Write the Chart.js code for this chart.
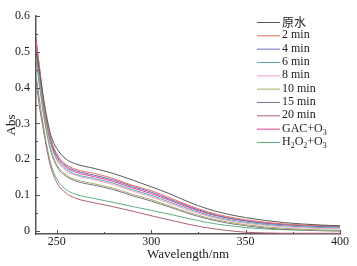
<!DOCTYPE html>
<html><head><meta charset="utf-8">
<script src="https://cdn.jsdelivr.net/npm/chart.js@4/dist/chart.umd.min.js"></script>
<style>html,body{margin:0;padding:0;background:#fff;}#wrap{width:357px;height:266px;}</style>
</head><body><div id="wrap"><canvas id="c" width="357" height="266"></canvas></div>
<script>
const wavelengths = [239, 241, 243, 245, 247, 250, 255, 260, 270, 280, 290, 300, 310, 320, 330, 340, 350, 360, 370, 380, 390, 400];
const rawWater = [0.50, 0.44, 0.37, 0.31, 0.265, 0.23, 0.20, 0.187, 0.174, 0.160, 0.142, 0.123, 0.103, 0.080, 0.061, 0.047, 0.037, 0.029, 0.023, 0.019, 0.016, 0.014];
const min2 = [0.53, 0.45, 0.36, 0.30, 0.255, 0.215, 0.185, 0.172, 0.160, 0.146, 0.127, 0.112, 0.092, 0.071, 0.053, 0.040, 0.031, 0.024, 0.019, 0.016, 0.014, 0.013];
const min4 = [0.52, 0.44, 0.355, 0.295, 0.25, 0.21, 0.181, 0.168, 0.155, 0.142, 0.124, 0.108, 0.088, 0.068, 0.050, 0.037, 0.028, 0.021, 0.017, 0.014, 0.012, 0.011];
const min6 = [0.50, 0.42, 0.34, 0.285, 0.24, 0.20, 0.172, 0.158, 0.146, 0.133, 0.115, 0.099, 0.080, 0.061, 0.044, 0.032, 0.024, 0.018, 0.014, 0.011, 0.009, 0.008];
const min8 = [0.51, 0.43, 0.345, 0.285, 0.24, 0.198, 0.168, 0.155, 0.142, 0.129, 0.111, 0.095, 0.076, 0.057, 0.041, 0.029, 0.021, 0.015, 0.011, 0.008, 0.006, 0.005];
const min10 = [0.49, 0.41, 0.33, 0.27, 0.225, 0.185, 0.156, 0.143, 0.131, 0.119, 0.102, 0.087, 0.069, 0.051, 0.036, 0.025, 0.017, 0.011, 0.007, 0.004, 0.002, 0.001];
const min15 = [0.48, 0.40, 0.325, 0.265, 0.22, 0.18, 0.152, 0.139, 0.127, 0.115, 0.098, 0.083, 0.066, 0.048, 0.033, 0.022, 0.014, 0.008, 0.004, 0.002, 0.000, -0.001];
const min20 = [0.42, 0.34, 0.28, 0.22, 0.175, 0.135, 0.105, 0.091, 0.078, 0.067, 0.055, 0.042, 0.030, 0.018, 0.008, 0.001, -0.004, -0.006, -0.007, -0.007, -0.007, -0.007];
const gacO3 = [0.54, 0.45, 0.36, 0.295, 0.248, 0.207, 0.177, 0.164, 0.151, 0.138, 0.120, 0.104, 0.085, 0.065, 0.048, 0.036, 0.028, 0.022, 0.018, 0.015, 0.013, 0.012];
const h2o2O3 = [0.44, 0.36, 0.29, 0.23, 0.185, 0.145, 0.115, 0.102, 0.090, 0.079, 0.068, 0.057, 0.046, 0.034, 0.023, 0.015, 0.009, 0.005, 0.003, 0.002, 0.001, 0.001];
const seriesNames = ['原水', '2 min', '4 min', '6 min', '8 min', '10 min', '15 min', '20 min', 'GAC+O3', 'H2O2+O3'];
const xTicks = [250, 300, 350, 400];
const yTicks = [0, 0.1, 0.2, 0.3, 0.4, 0.5, 0.6];

const seriesData = [rawWater, min2, min4, min6, min8, min10, min15, min20, gacO3, h2o2O3];
const colors = ['#5a5a5a', '#e8705c', '#6a6ac8', '#5fa8a8', '#f0a0d0', '#a8b060', '#76768e', '#b06070', '#e0408c', '#60b080'];

const datasets = seriesNames.map((n, i) => ({
  label: n,
  data: wavelengths.map((w, j) => ({x: w, y: seriesData[i][j]})),
  borderColor: colors[i],
  borderWidth: 1,
  pointRadius: 0,
  fill: false,
  cubicInterpolationMode: 'monotone'
}));

const SERIF = "'Liberation Serif', 'DejaVu Serif', serif";

const extras = {
  id: 'extras',
  afterDraw(chart) {
    const ctx = chart.ctx;
    const xs = chart.scales.x, ys = chart.scales.y;
    const area = chart.chartArea;
    ctx.save();
    ctx.strokeStyle = '#555';
    ctx.lineWidth = 1;
    for (let v = 250; v <= 400; v += 25) {
      const px = Math.round(xs.getPixelForValue(v)) + 0.5;
      const len = (v % 50 === 0) ? 4 : 2;
      ctx.beginPath(); ctx.moveTo(px, area.bottom); ctx.lineTo(px, area.bottom - len); ctx.stroke();
    }
    for (let k = 0; k <= 12; k++) {
      const v = k * 0.05;
      const py = Math.round(ys.getPixelForValue(v)) + 0.5;
      const len = (k % 2 === 0) ? 4 : 2;
      ctx.beginPath(); ctx.moveTo(area.left, py); ctx.lineTo(area.left + len, py); ctx.stroke();
    }
    const x0 = 257, x1 = 280, tx = 282;
    let y = 22;
    ctx.textBaseline = 'middle';
    ctx.textAlign = 'left';
    ctx.fillStyle = '#222';
    seriesNames.forEach((n, i) => {
      ctx.strokeStyle = colors[i];
      ctx.beginPath(); ctx.moveTo(x0, y + 0.5); ctx.lineTo(x1, y + 0.5); ctx.stroke();
      const big = "12px " + SERIF, small = "8px " + SERIF;
      if (n === '原水') {
        ctx.font = "12px 'Noto Sans CJK SC', serif";
        ctx.fillText(n, tx, y);
      } else if (n === 'GAC+O3') {
        ctx.font = big; ctx.fillText('GAC+O', tx, y);
        let w = ctx.measureText('GAC+O').width;
        ctx.font = small; ctx.fillText('3', tx + w, y + 4);
      } else if (n === 'H2O2+O3') {
        let cx = tx;
        const parts = [['H', 0], ['2', 1], ['O', 0], ['2', 1], ['+O', 0], ['3', 1]];
        parts.forEach(([t, s]) => {
          ctx.font = s ? small : big;
          ctx.fillText(t, cx, s ? y + 4 : y);
          cx += ctx.measureText(t).width;
        });
      } else {
        ctx.font = big; ctx.fillText(n, tx, y);
      }
      y += 13.33;
    });
    ctx.restore();
  }
};

new Chart(document.getElementById('c'), {
  type: 'line',
  data: { datasets },
  plugins: [extras],
  options: {
    responsive: false,
    animation: false,
    layout: { padding: { top: 16, right: 17, left: 0, bottom: 0 } },
    plugins: { legend: { display: false }, tooltip: { enabled: false } },
    scales: {
      x: {
        type: 'linear', min: 239, max: 400,
        afterBuildTicks(s) { s.ticks = xTicks.map(v => ({value: v})); },
        afterFit(s) { s.height = 32; },
        grid: { display: false, drawTicks: false },
        border: { display: true, color: '#555', width: 1.5 },
        ticks: { font: { family: SERIF, size: 12 }, color: '#222', padding: 1, maxRotation: 0, autoSkip: false },
        title: { display: true, text: 'Wavelength/nm', font: { family: SERIF, size: 13 }, color: '#222', padding: { top: 0, bottom: 4 } }
      },
      y: {
        type: 'linear', min: -0.009, max: 0.6,
        afterBuildTicks(s) { s.ticks = yTicks.map(v => ({value: v})); },
        afterFit(s) { s.width = 36; },
        grid: { display: false, drawTicks: false },
        border: { display: true, color: '#555', width: 1.5 },
        ticks: { font: { family: SERIF, size: 12 }, color: '#222', padding: 6, autoSkip: false,
          callback: v => String(Math.round(v * 10) / 10) },
        title: { display: true, text: 'Abs', font: { family: SERIF, size: 13 }, color: '#222', padding: { top: 4, bottom: 0 } }
      }
    }
  }
});
</script></body></html>
